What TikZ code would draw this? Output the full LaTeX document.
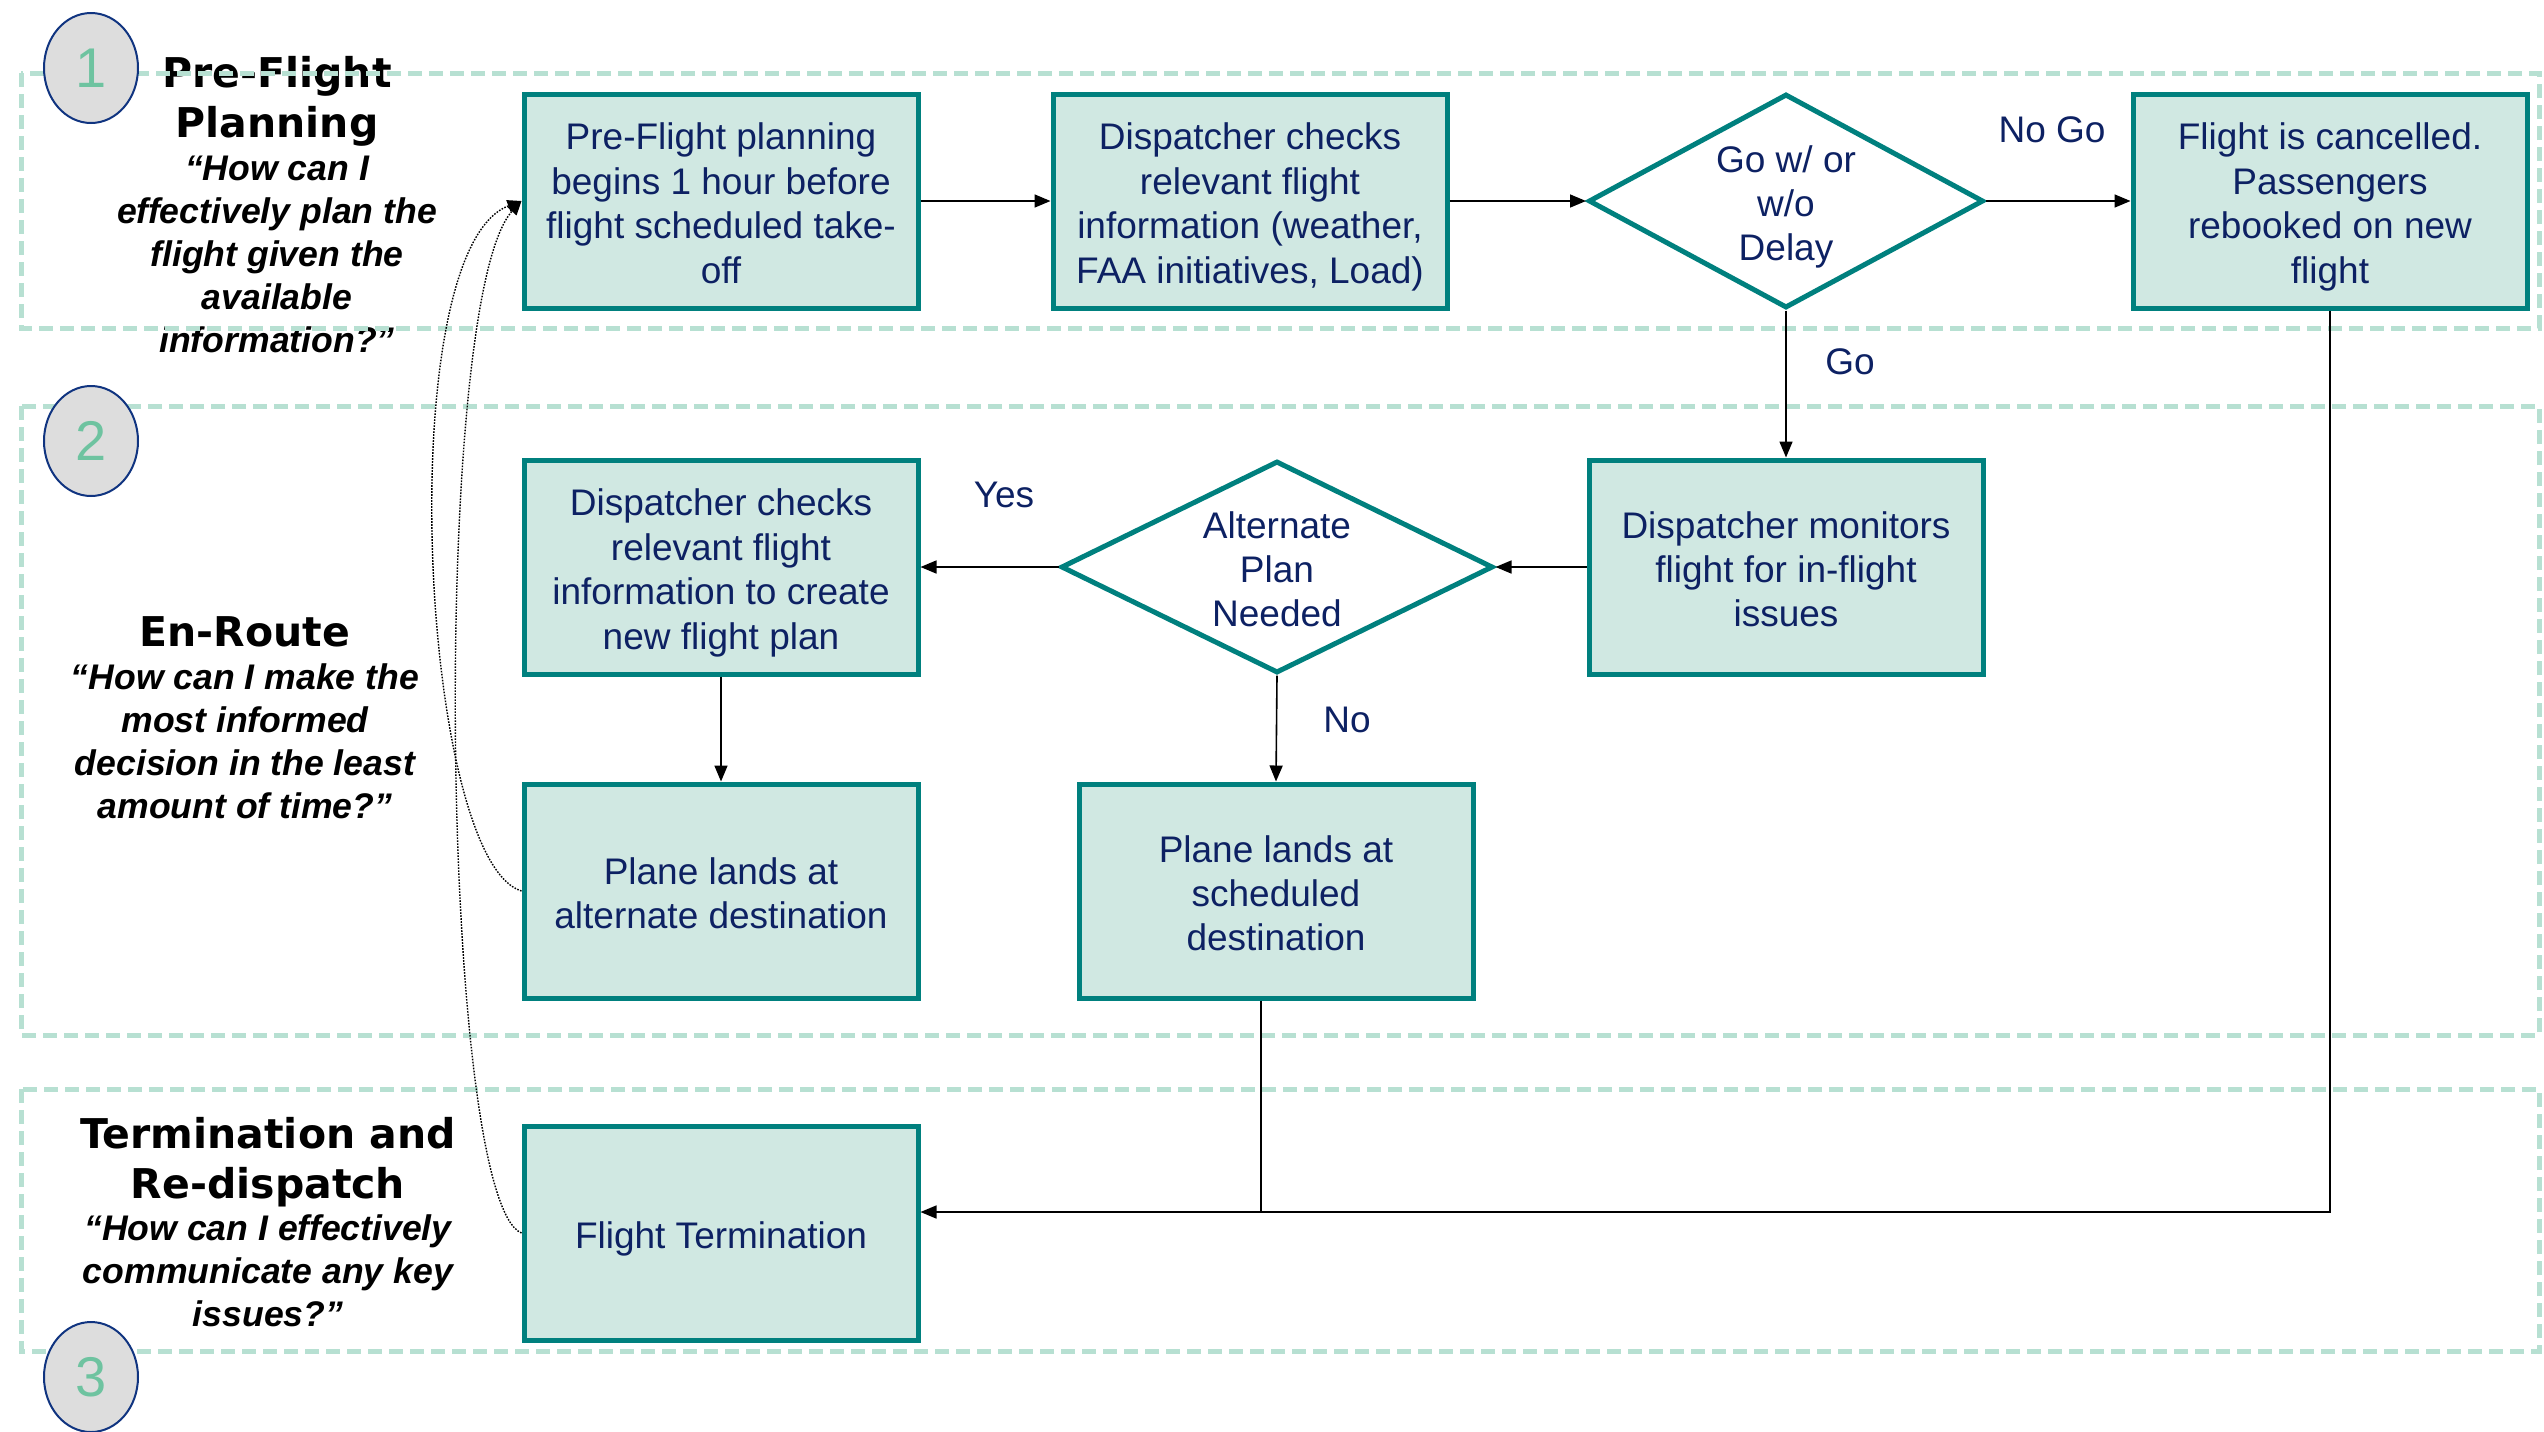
\documentclass[tikz,border=0pt]{standalone}
\usepackage{fontspec}
\setmainfont{Liberation Sans}
\newfontfamily\headfont{DejaVu Sans}
\usetikzlibrary{arrows.meta,shapes.geometric}

\definecolor{tealline}{RGB}{0,128,126}
\definecolor{boxfill}{RGB}{208,232,226}
\definecolor{zoneline}{RGB}{183,224,210}
\definecolor{navy}{RGB}{13,33,99}
\definecolor{circfill}{RGB}{221,221,221}
\definecolor{circline}{RGB}{16,52,128}
\definecolor{numgreen}{RGB}{110,195,160}

% centred block of lines with even row heights, ink set a little low
\newcommand{\boxlines}[1]{\raisebox{-3.3pt}[\height][\depth]{\begin{tabular}{@{}c@{}}#1\end{tabular}}}

\begin{document}
\begin{tikzpicture}[x=0.5pt,y=-0.5pt,
  boxtext/.style={text=navy, font=\fontsize{18.5}{22.2}\selectfont},
  procbox/.style={boxtext, draw=tealline, fill=boxfill, line width=2.5pt,
    minimum width=197pt, minimum height=107pt, inner sep=0pt},
  decision/.style={boxtext, diamond, draw=tealline, fill=white, line width=2.5pt,
    inner sep=0pt},
  flow/.style={-{Triangle[length=8pt,width=6.5pt]}, line width=0.8pt, black},
  plainline/.style={line width=0.8pt, black},
  dotline/.style={-{Triangle[length=7pt,width=6pt]}, dash pattern=on 0.8pt off 0.7pt, line width=0.7pt, black},
  tag/.style={text=navy, font=\fontsize{18.5}{22.2}\selectfont, inner sep=0pt},
  zone/.style={draw=zoneline, line width=2.5pt, dash pattern=on 7pt off 3.5pt},
  headtitle/.style={align=center, inner sep=0pt, font=\headfont\bfseries\fontsize{20.5}{25}\selectfont},
  headq/.style={align=center, inner sep=0pt, font=\bfseries\itshape\fontsize{17.8}{21.5}\selectfont},
  numcirc/.style={ellipse, draw=circline, fill=circfill, line width=1pt,
    minimum width=47pt, minimum height=55pt, inner sep=0pt, text=numgreen,
    font=\fontsize{28}{30}\selectfont}
]
\useasboundingbox (0,0) rectangle (2544,1431);

% phase headings
\node[headtitle] (t1) at (277,101) {Pre-Flight\\Planning};
\node[headq] (q1) at (277,254) {“How can I\\effectively plan the\\flight given the\\available\\information?”};
\node[headtitle] (t2) at (245,632) {En-Route};
\node[headq] (q2) at (245,741) {“How can I make the\\most informed\\decision in the least\\amount of time?”};
\node[headtitle] (t3) at (268,1162) {Termination and\\Re-dispatch};
\node[headq] (q3) at (268,1271) {“How can I effectively\\communicate any key\\issues?”};

% phase zones
\draw[zone] (21,73) rectangle (2539,328);
\draw[zone] (21,406) rectangle (2539,1035);
\draw[zone] (21,1089) rectangle (2539,1351);

% process steps
\node[procbox] (A) at (721,201) {\boxlines{Pre-Flight planning\\begins 1 hour before\\flight scheduled take-\\off}};
\node[procbox] (B) at (1250,201) {\boxlines{Dispatcher checks\\relevant flight\\information (weather,\\FAA initiatives, Load)}};
\node[decision, aspect=1.85, minimum width=197.5pt, minimum height=107pt] (D1) at (1786,201) {\boxlines{Go w/ or\\w/o\\Delay}};
\node[procbox] (C) at (2330,201) {\boxlines{Flight is cancelled.\\Passengers\\rebooked on new\\flight}};
\node[procbox] (E) at (1786,567) {\boxlines{Dispatcher monitors\\flight for in-flight\\issues}};
\node[decision, aspect=2.04, minimum width=216pt, minimum height=106pt] (D2) at (1277,567) {\boxlines{Alternate\\Plan\\Needed}};
\node[procbox] (F) at (721,567) {\boxlines{Dispatcher checks\\relevant flight\\information to create\\new flight plan}};
\node[procbox] (G) at (721,891) {\boxlines{Plane lands at\\alternate destination}};
\node[procbox] (H) at (1276,891) {\boxlines{Plane lands at\\scheduled\\destination}};
\node[procbox] (T) at (721,1233) {\boxlines{Flight Termination}};

% branch labels
\node[tag] (lnogo) at (2052,130) {No Go};
\node[tag] (lgo) at (1850,362) {Go};
\node[tag] (lyes) at (1004,495) {Yes};
\node[tag] (lno) at (1347,720) {No};

% connectors
\draw[flow] (A) -- (B);
\draw[flow] (B) -- (D1);
\draw[flow] (D1) -- (C);
\draw[flow] (D1.south) -- (E.north);
\draw[flow] (E) -- (D2);
\draw[flow] (D2) -- (F);
\draw[flow] (D2.south) -- (H.north);
\draw[flow] (F) -- (G);
\coordinate (j) at (1261,1212);
\draw[plainline] (C.south) -- (C.south |- j) -- (j);
\draw[flow] (H.south -| j) -- (j) -- (T.east |- j);

% re-dispatch loops
\draw[dotline] (G.west) .. controls (420,860) and (390,250) .. (A.west);
\draw[dotline] (T.west) .. controls (440,1200) and (430,300) .. (A.west);

% phase numbers
\node[numcirc] (n1) at (91,68) {1};
\node[numcirc] (n2) at (91,441) {2};
\node[numcirc] (n3) at (91,1377) {3};
\end{tikzpicture}
\end{document}
